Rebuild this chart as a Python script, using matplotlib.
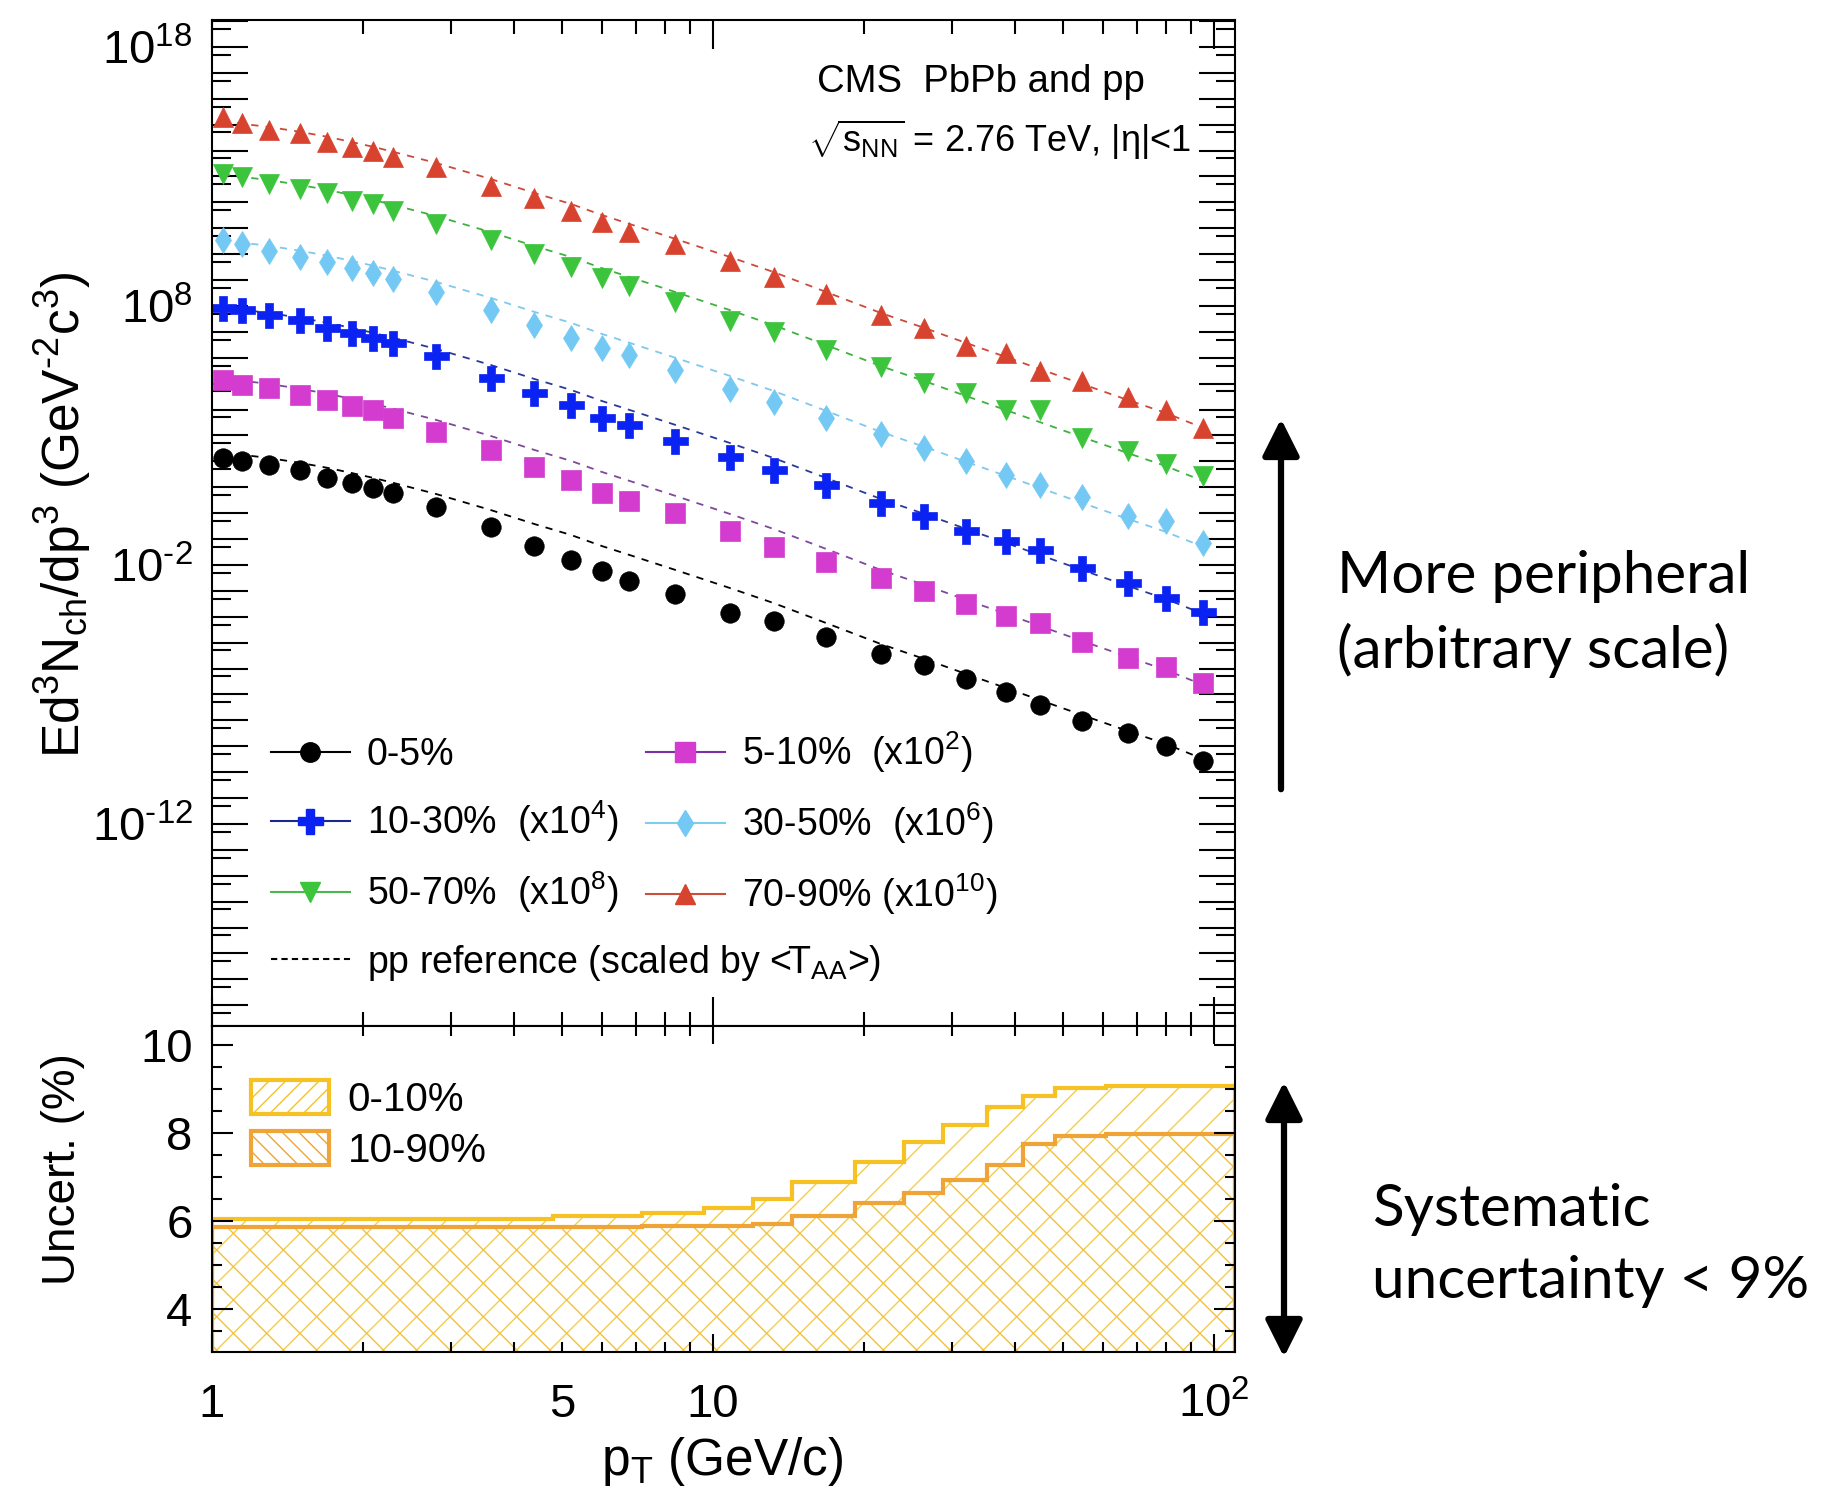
import numpy as np
import matplotlib
matplotlib.use('Agg')
import matplotlib.pyplot as plt
from matplotlib.lines import Line2D
from matplotlib.patches import Patch, FancyArrowPatch
from matplotlib.ticker import (LogLocator, FuncFormatter, FixedLocator,
                               MultipleLocator, NullFormatter)

plt.rcParams['font.family'] = ['Liberation Sans', 'DejaVu Sans']
plt.rcParams['mathtext.fontset'] = 'custom'
plt.rcParams['mathtext.rm'] = 'Liberation Sans'
plt.rcParams['mathtext.it'] = 'Liberation Sans:italic'
plt.rcParams['mathtext.bf'] = 'Liberation Sans:bold'
plt.rcParams['hatch.linewidth'] = 1.0

# pT bin centres (GeV/c)
pt = [1.05, 1.15, 1.3, 1.5, 1.7, 1.9, 2.1, 2.3, 2.8, 3.6, 4.4, 5.2, 6.0, 6.8,
      8.4, 10.8, 13.2, 16.8, 21.6, 26.4, 32.0, 38.4, 44.8, 54.4, 67.2, 80.0, 95.0]

# log10 of the scaled yields
lg_0_5 = [2.12, 2.03, 1.86, 1.67, 1.35, 1.15, 0.96, 0.77, 0.25, -0.54, -1.27, -1.81,
          -2.22, -2.61, -3.12, -3.85, -4.18, -4.77, -5.44, -5.88, -6.40, -6.92,
          -7.41, -8.02, -8.47, -8.99, -9.58]
lg_5_10 = [5.14, 4.95, 4.82, 4.56, 4.37, 4.14, 3.98, 3.66, 3.15, 2.44, 1.77, 1.28,
           0.79, 0.48, 0.00, -0.70, -1.29, -1.88, -2.52, -3.00, -3.51, -3.96,
           -4.25, -4.99, -5.59, -5.95, -6.55]
lg_10_30 = [7.91, 7.85, 7.65, 7.46, 7.14, 6.95, 6.75, 6.56, 6.07, 5.23, 4.63, 4.18,
            3.66, 3.41, 2.79, 2.15, 1.66, 1.07, 0.41, -0.11, -0.70, -1.07, -1.44,
            -2.11, -2.70, -3.29, -3.81]
lg_30_50 = [10.55, 10.39, 10.13, 9.90, 9.71, 9.46, 9.26, 9.03, 8.55, 7.85, 7.27, 6.75,
            6.37, 6.11, 5.53, 4.81, 4.28, 3.69, 3.04, 2.51, 2.00, 1.47, 1.07, 0.63,
            -0.11, -0.31, -1.15]
lg_50_70 = [13.10, 12.97, 12.71, 12.51, 12.35, 12.07, 11.94, 11.68, 11.17, 10.55, 10.01,
            9.49, 9.07, 8.77, 8.17, 7.43, 6.99, 6.29, 5.66, 5.02, 4.62, 3.98, 3.98,
            2.92, 2.40, 1.88, 1.44]
lg_70_90 = [15.29, 15.05, 14.80, 14.67, 14.34, 14.15, 14.00, 13.76, 13.36, 12.63, 12.16,
            11.68, 11.25, 10.87, 10.38, 9.73, 9.13, 8.47, 7.66, 7.13, 6.47, 6.20, 5.47,
            5.11, 4.47, 3.98, 3.29]

# pp reference (log10, as drawn for 0-5%) and its vertical shift for each class
lg_pp = [2.36, 2.25, 2.13, 1.94, 1.75, 1.55, 1.36, 1.17, 0.74, 0.12, -0.42, -0.84,
         -1.27, -1.61, -2.19, -2.89, -3.47, -4.24, -5.05, -5.63, -6.21, -6.75, -7.21,
         -7.79, -8.41, -8.91, -9.49]
pp_shift = [0.0, 2.86, 5.60, 8.19, 10.73, 12.78]

labels = ['0-5%', '5-10%  (x10$^{2}$)', '10-30%  (x10$^{4}$)', '30-50%  (x10$^{6}$)',
          '50-70%  (x10$^{8}$)', '70-90% (x10$^{10}$)']
series = [lg_0_5, lg_5_10, lg_10_30, lg_30_50, lg_50_70, lg_70_90]
mcol = ['black', '#d43ccf', '#0a22f2', '#74c9f4', '#3cc43c', '#d8432f']
lcol = ['black', '#7b2fa8', '#1a2a8c', '#80ccee', '#4ab84a', '#c8503c']
dcol = ['black', '#7d4a9a', '#2a3a9a', '#80c8ee', '#40b040', '#cc4a3a']
marks = ['o', 's', 'P', 'd', 'v', '^']
msize = [14, 14, 18, 13, 15, 15]

# systematic uncertainty (%)
unc_edges = [1.0, 4.8, 7.2, 9.6, 12.0, 14.4, 19.2, 24.0, 28.8, 35.2, 41.6, 48.0, 60.8, 110.0]
unc_0_10 = [6.05, 6.11, 6.19, 6.29, 6.49, 6.89, 7.34, 7.80, 8.17, 8.58, 8.85, 9.03, 9.07]
unc_10_90 = [5.85, 5.85, 5.88, 5.88, 5.92, 6.11, 6.40, 6.64, 6.92, 7.28, 7.74, 7.92, 7.98]

W, H = 1831, 1498
def fx(x):
    return x / W
def fy(y):
    return 1 - y / H

HY = '\u2010'  # short hyphen, as in the ROOT labels

fig = plt.figure(figsize=(W / 100, H / 100), dpi=100)
ax = fig.add_axes([fx(212), fy(1026), fx(1235) - fx(212), fy(20) - fy(1026)])
axr = fig.add_axes([fx(212), fy(1352), fx(1235) - fx(212), fy(1026) - fy(1352)])

# spectra
for i in range(6):
    ax.plot(pt, 10 ** (np.array(lg_pp) + pp_shift[i]), ls=(0, (4, 4)), lw=1.3, color=dcol[i])
    ax.plot(pt, 10 ** np.array(series[i]), ls='none', marker=marks[i], ms=msize[i],
            mfc=mcol[i], mec=mcol[i], mew=0.5)

ax.set_xscale('log')
ax.set_yscale('log')
ax.set_xlim(1, 110)
ax.set_ylim(10 ** -19.8, 10 ** 19.04)

def ylab(v, p):
    e = int(round(np.log10(v)))
    if e not in (18, 8, -2, -12):
        return ''
    return r'$10^{%s}$' % str(e).replace('-', HY)

ax.yaxis.set_major_locator(LogLocator(base=10, numticks=200))
ax.yaxis.set_minor_locator(LogLocator(base=10, subs=(5.0,), numticks=200))
ax.yaxis.set_major_formatter(FuncFormatter(ylab))
ax.yaxis.set_minor_formatter(NullFormatter())
ax.xaxis.set_major_locator(LogLocator(base=10, numticks=10))
ax.xaxis.set_minor_locator(LogLocator(base=10, subs=np.arange(2, 10), numticks=10))
ax.tick_params(axis='y', which='major', direction='in', length=26, width=1.5,
               left=True, right=True, labelsize=34, pad=14)
ax.tick_params(axis='y', which='minor', direction='in', length=14, width=1.5,
               left=True, right=True)
ax.tick_params(axis='x', which='major', direction='in', length=21, width=1.5,
               top=True, bottom=True, labelbottom=False)
ax.tick_params(axis='x', which='minor', direction='in', length=10, width=1.5,
               top=True, bottom=True, labelbottom=False)
for s in ax.spines.values():
    s.set_linewidth(1.5)

handles = []
for i in [0, 2, 4, 1, 3, 5]:
    handles.append(Line2D([], [], color=lcol[i], lw=1.5, marker=marks[i], ms=msize[i],
                          mfc=mcol[i], mec=mcol[i]))
leg1 = ax.legend(handles, [labels[i] for i in [0, 2, 4, 1, 3, 5]], ncol=2,
                 loc='upper left', bbox_to_anchor=(0.0577, 0.295), frameon=False,
                 fontsize=27, handlelength=2.1, handletextpad=0.45, columnspacing=0.75,
                 labelspacing=0.68, borderpad=0, borderaxespad=0)
ax.add_artist(leg1)
pp_h = Line2D([], [], color='black', lw=1.5, ls=(0, (3, 2)))
ax.legend([pp_h], [r'pp reference (scaled by <T$_{\rm AA}$>)'], loc='upper left',
          bbox_to_anchor=(0.0577, 0.083), frameon=False, fontsize=27, handlelength=2.1,
          handletextpad=0.45, borderpad=0, borderaxespad=0)

fig.text(fx(817), fy(82), 'CMS  PbPb and pp', ha='left', va='center', fontsize=27.5)
fig.text(fx(808), fy(140), r'$\sqrt{\mathrm{s}_{\mathrm{NN}}}$ = 2.76 TeV, |η|<1',
         ha='left', va='center', fontsize=26)

# uncertainty panel
axr.stairs(unc_0_10, unc_edges, baseline=0, fill=True, hatch='/',
           facecolor='none', edgecolor='#f3cd4c', lw=0)
axr.stairs(unc_10_90, unc_edges, baseline=0, fill=True, hatch='\\',
           facecolor='none', edgecolor='#f0c040', lw=0)
axr.stairs(unc_0_10, unc_edges, baseline=0, color='#f6c223', lw=3)
axr.stairs(unc_10_90, unc_edges, baseline=0, color='#eea437', lw=3)

axr.set_xscale('log')
axr.set_xlim(1, 110)
axr.set_ylim(3.02, 10.43)
axr.yaxis.set_major_locator(FixedLocator([4, 6, 8, 10]))
axr.yaxis.set_minor_locator(MultipleLocator(0.5))
axr.xaxis.set_major_locator(FixedLocator([1, 10, 100]))
axr.xaxis.set_minor_locator(LogLocator(base=10, subs=np.arange(2, 10), numticks=10))
xl = {1: '1', 10: '10', 100: '10$^{2}$'}
axr.xaxis.set_major_formatter(FuncFormatter(lambda v, p: xl.get(int(round(v)), '')))
axr.xaxis.set_minor_formatter(FuncFormatter(lambda v, p: '5' if abs(v - 5) < 1e-6 else ''))
axr.tick_params(axis='y', which='major', direction='in', length=15, width=1.5,
                left=True, right=True, labelsize=34, pad=14)
axr.tick_params(axis='y', which='minor', direction='in', length=7, width=1.5,
                left=True, right=True)
axr.tick_params(axis='x', which='both', direction='in', width=1.5, top=True,
                bottom=True, labelsize=34, pad=22)
axr.tick_params(axis='x', which='major', length=13)
axr.tick_params(axis='x', which='minor', length=7)
for s in axr.spines.values():
    s.set_linewidth(1.5)

axr.legend([Patch(facecolor='white', edgecolor='#f6c223', hatch='//', lw=3),
            Patch(facecolor='white', edgecolor='#eea437', hatch='\\\\', lw=3)],
           ['0-10%', '10-90%'], loc='upper left', bbox_to_anchor=(0.038, 0.834),
           frameon=False, fontsize=29, handlelength=1.95, handleheight=0.93,
           handletextpad=0.45, labelspacing=0.3, borderpad=0, borderaxespad=0)

fig.text(fx(63), fy(515),
         r'Ed$^{3}$N$_{\rm ch}$/dp$^{3}$ (GeV$^{%s2}$c$^{3}$)' % HY,
         rotation=90, ha='center', va='center', fontsize=37)
fig.text(fx(63), fy(1169), 'Uncert. (%)', rotation=90, ha='center', va='center', fontsize=33)
fig.text(fx(722), fy(1475), r'p$_{\rm T}$ (GeV/c)', ha='center', va='baseline', fontsize=37)

# side annotations
fig.add_artist(FancyArrowPatch((fx(1281), fy(792)), (fx(1281), fy(416)),
                               transform=fig.transFigure, color='black', lw=4.5,
                               arrowstyle='-|>,head_length=0.9,head_width=0.45',
                               mutation_scale=25))
fig.add_artist(FancyArrowPatch((fx(1284), fy(1079)), (fx(1284), fy(1360)),
                               transform=fig.transFigure, color='black', lw=4.5,
                               arrowstyle='<|-|>,head_length=0.9,head_width=0.45',
                               mutation_scale=25))
fig.text(fx(1337), fy(577), 'More peripheral', family='Lato', fontsize=42, va='center')
fig.text(fx(1337), fy(650), '(arbitrary scale)', family='Lato', fontsize=42, va='center')
fig.text(fx(1372), fy(1209), 'Systematic', family='Lato', fontsize=42, va='center')
fig.text(fx(1372), fy(1281), 'uncertainty < 9%', family='Lato', fontsize=42, va='center')

fig.savefig('out.png', dpi=100)
